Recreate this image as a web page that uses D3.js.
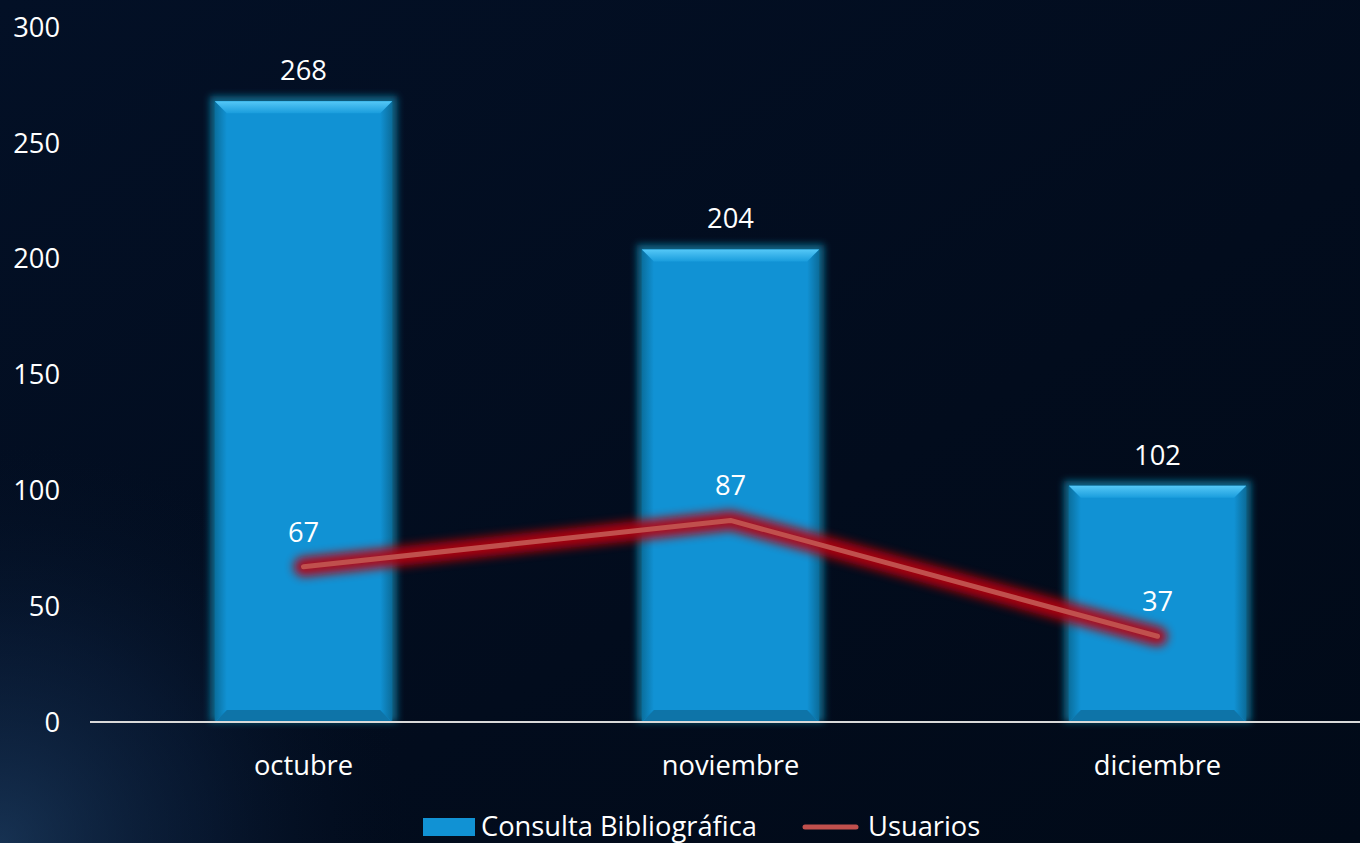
<!DOCTYPE html>
<html><head><meta charset="utf-8">
<script src="https://cdn.jsdelivr.net/npm/d3@7"></script>
<style>html,body{margin:0;padding:0;background:#020c1c;overflow:hidden}svg{display:block}</style>
</head><body>
<svg id="c" width="1360" height="843"></svg>
<script>
const categories = ["octubre", "noviembre", "diciembre"];
const consulta = [268, 204, 102];
const usuarios = [67, 87, 37];
const yTicks = [0, 50, 100, 150, 200, 250, 300];
const seriesNames = ["Consulta Bibliográfica", "Usuarios"];

const W = 1360, H = 843;
const svg = d3.select("#c");
const FONT = "'Open Sans', Lato, sans-serif";
const FS = 27.3;
const defs = svg.append("defs");

// background
const bg = defs.append("radialGradient").attr("id","bgL").attr("cx",0).attr("cy",1).attr("r",0.5).attr("gradientUnits","objectBoundingBox")
  .attr("gradientTransform","scale(0.62,1)");
bg.append("stop").attr("offset",0).attr("stop-color","#244a74").attr("stop-opacity",0.6);
bg.append("stop").attr("offset",0.5).attr("stop-color","#143056").attr("stop-opacity",0.3);
bg.append("stop").attr("offset",1).attr("stop-color","#020c1c").attr("stop-opacity",0);
const bg2 = defs.append("linearGradient").attr("id","bgBase").attr("x1",0).attr("y1",0).attr("x2",1).attr("y2",1);
bg2.append("stop").attr("offset",0).attr("stop-color","#031026");
bg2.append("stop").attr("offset",0.6).attr("stop-color","#020c1d");
bg2.append("stop").attr("offset",1).attr("stop-color","#010a18");
svg.append("rect").attr("width",W).attr("height",H).attr("fill","url(#bgBase)");
svg.append("rect").attr("width",W).attr("height",H).attr("fill","url(#bgL)");

// filters
const fg = defs.append("filter").attr("id","barGlow").attr("x","-20%").attr("y","-20%").attr("width","140%").attr("height","140%");
fg.append("feGaussianBlur").attr("stdDeviation",3.5);
const fl = defs.append("filter").attr("id","lineGlow").attr("x","-20%").attr("y","-50%").attr("width","140%").attr("height","200%");
fl.append("feGaussianBlur").attr("stdDeviation",5);

const topG = defs.append("linearGradient").attr("id","topBev").attr("x1",0).attr("y1",0).attr("x2",0).attr("y2",1);
topG.append("stop").attr("offset",0).attr("stop-color","#55c8f7");
topG.append("stop").attr("offset",1).attr("stop-color","#1a9ddd");
const sideL = defs.append("linearGradient").attr("id","sideL").attr("x1",0).attr("y1",0).attr("x2",1).attr("y2",0);
sideL.append("stop").attr("offset",0).attr("stop-color","#0a6f9e");
sideL.append("stop").attr("offset",1).attr("stop-color","#1192d4");
const sideR = defs.append("linearGradient").attr("id","sideR").attr("x1",0).attr("y1",0).attr("x2",1).attr("y2",0);
sideR.append("stop").attr("offset",0).attr("stop-color","#1192d4");
sideR.append("stop").attr("offset",1).attr("stop-color","#0b6c9a");

const x = d3.scaleBand().domain(categories).range([90, 1371]).paddingInner(0.585).paddingOuter(0.2925);
const y = d3.scaleLinear().domain([0, 300]).range([722, 27]);

// y tick labels
svg.append("g").selectAll("text").data(yTicks).join("text")
  .attr("x", 60).attr("y", d => y(d)).attr("dy","0.36em")
  .attr("text-anchor","end").attr("fill","#ffffff")
  .attr("font-family",FONT).attr("font-size",FS).text(d => d);

// bars
const bars = svg.append("g").selectAll("g").data(categories).join("g");
const bw = x.bandwidth();
bars.append("rect")
  .attr("x", d => x(d) - 5).attr("y", (d,i) => y(consulta[i]) - 5)
  .attr("width", bw + 10).attr("height", (d,i) => y(0) - y(consulta[i]) + 5)
  .attr("fill","#0b6385").attr("filter","url(#barGlow)");
bars.append("rect")
  .attr("x", d => x(d)).attr("y", (d,i) => y(consulta[i]))
  .attr("width", bw).attr("height", (d,i) => y(0) - y(consulta[i]))
  .attr("fill","#1192d4");
const bev = 12;
bars.append("polygon").attr("points",(d,i)=>{
  const x0=x(d), t=y(consulta[i]), b=y(0);
  return [[x0,t],[x0+bev,t+bev],[x0+bev,b-bev],[x0,b]].map(p=>p.join(",")).join(" ");
}).attr("fill","url(#sideL)");
bars.append("polygon").attr("points",(d,i)=>{
  const x1=x(d)+bw, t=y(consulta[i]), b=y(0);
  return [[x1,t],[x1-bev,t+bev],[x1-bev,b-bev],[x1,b]].map(p=>p.join(",")).join(" ");
}).attr("fill","url(#sideR)");
bars.append("polygon").attr("points",(d,i)=>{
  const x0=x(d), x1=x(d)+bw, b=y(0);
  return [[x0,b],[x0+bev,b-bev],[x1-bev,b-bev],[x1,b]].map(p=>p.join(",")).join(" ");
}).attr("fill","#0e74a8");
bars.append("polygon").attr("points",(d,i)=>{
  const x0=x(d), x1=x(d)+bw, t=y(consulta[i]);
  return [[x0,t],[x1,t],[x1-bev,t+bev],[x0+bev,t+bev]].map(p=>p.join(",")).join(" ");
}).attr("fill","url(#topBev)");

// bar labels
svg.append("g").selectAll("text").data(categories).join("text")
  .attr("x", d => x(d) + bw/2).attr("y", (d,i) => y(consulta[i]) - 21)
  .attr("text-anchor","middle").attr("fill","#ffffff")
  .attr("font-family",FONT).attr("font-size",FS).text((d,i) => consulta[i]);

// axis line
svg.append("line").attr("x1",90).attr("x2",1360).attr("y1",y(0)).attr("y2",y(0))
  .attr("stroke","#d9d9d9").attr("stroke-width",2);

// category labels
svg.append("g").selectAll("text").data(categories).join("text")
  .attr("x", d => x(d) + bw/2).attr("y", 775)
  .attr("text-anchor","middle").attr("fill","#ffffff")
  .attr("font-family",FONT).attr("font-size",FS).text(d => d);

// line
const pts = categories.map((c,i)=>[x(c)+bw/2, y(usuarios[i])]);
const line = d3.line();
svg.append("path").attr("d", line(pts)).attr("fill","none").attr("stroke","#b80008")
  .attr("stroke-width",20).attr("stroke-linecap","round").attr("stroke-linejoin","round")
  .attr("opacity",0.9).attr("filter","url(#lineGlow)");
svg.append("path").attr("d", line(pts)).attr("fill","none").attr("stroke","#c0504d")
  .attr("stroke-width",5).attr("stroke-linecap","round").attr("stroke-linejoin","round");

svg.append("g").selectAll("text").data(categories).join("text")
  .attr("x", d => x(d) + bw/2).attr("y", (d,i) => y(usuarios[i]) - 25)
  .attr("text-anchor","middle").attr("fill","#ffffff")
  .attr("font-family",FONT).attr("font-size",FS).text((d,i) => usuarios[i]);

// legend
const lg = svg.append("g");
lg.append("rect").attr("x",423).attr("y",818).attr("width",52).attr("height",18).attr("fill","#1192d4");
lg.append("text").attr("x",481).attr("y",836).attr("fill","#ffffff").attr("font-family",FONT).attr("font-size",FS).text(seriesNames[0]);
lg.append("line").attr("x1",805).attr("x2",856).attr("y1",827).attr("y2",827).attr("stroke","#c0504d").attr("stroke-width",5).attr("stroke-linecap","round");
lg.append("text").attr("x",868).attr("y",836).attr("fill","#ffffff").attr("font-family",FONT).attr("font-size",FS).text(seriesNames[1]);
</script>
</body></html>
